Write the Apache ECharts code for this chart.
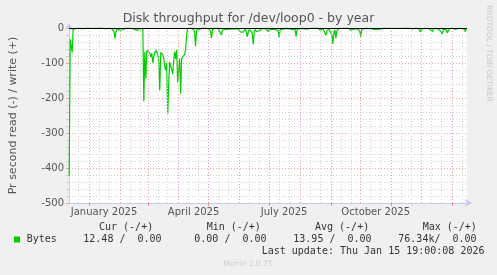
<!DOCTYPE html>
<html><head><meta charset="utf-8">
<script src="https://cdn.jsdelivr.net/npm/echarts@6/dist/echarts.min.js"></script>
<style>html,body{margin:0;padding:0;background:#f0f0f0;}#c{width:497px;height:275px;}</style>
</head><body><div id="c"></div>
<script>
const chartTitle = 'Disk throughput for /dev/loop0 - by year';
const yAxisName = 'Pr second read (-) / write (+)';
const seriesName = 'Bytes';
const rangeStart = '2024-12-11T19:00:00Z';
const rangeEnd = '2026-01-15T19:00:00Z';
const firstDay = '2024-12-12T00:00:00Z';
const monthNames = ['January','February','March','April','May','June','July','August','September','October','November','December'];
const labelDates = ['2025-01-16','2025-04-16','2025-07-16','2025-10-16'];
const tickDates = ['2025-01-01','2025-03-01','2025-05-01','2025-07-01','2025-09-01','2025-11-01','2026-01-01'];
const majorGridDates = ['2025-01-01','2025-02-01','2025-03-01','2025-04-01','2025-05-01','2025-06-01','2025-07-01','2025-08-01','2025-09-01','2025-10-01','2025-11-01','2025-12-01','2026-01-01'];
const minorGridDays = [11, 21];
// daily read throughput (negative = read), one value per day from firstDay
const readValues = [
-422,-32,-30,-70,-4,-2,-1,-1,0,-1,0,-1,0,-2,-1,-3,-1,0,-1,0,
-1,0,-1,0,0,-1,0,-2,0,-1,0,0,-1,0,-1,0,0,-2,-1,0,
0,-1,-2,-3,-6,-10,-30,-12,-3,-5,-2,-6,-7,-4,-5,-2,-1,0,-1,0,
0,-1,0,-1,-2,-1,-4,-8,-5,-7,-2,-1,0,-1,-3,-210,-68,-145,-64,-62,
-63,-72,-83,-72,-100,-82,-70,-64,-68,-75,-95,-178,-70,-72,-76,-85,-110,-120,-100,-245,
-160,-97,-110,-118,-132,-95,-68,-88,-62,-155,-120,-88,-188,-88,-82,-80,-76,-62,-20,-1,
-2,-1,0,-3,-2,-4,-10,-52,-6,-2,-1,-3,0,-2,-1,-4,-2,0,-1,-3,
-2,-4,-8,-29,-4,-1,-2,0,-3,-1,-2,-5,-6,-20,-5,-2,-1,-3,0,-2,
-4,-3,-6,-2,-1,-5,-3,-2,-4,-1,-3,-2,-11,-12,-6,-12,-8,-3,-10,-25,
-12,-4,-6,-3,-15,-47,-10,-4,-10,-6,-10,-8,-3,-5,-2,-6,-3,-1,-4,-2,
-10,-4,-2,-8,-3,-1,-2,-4,-1,-3,-8,-26,-5,-2,-1,-3,0,-2,-1,-2,
-4,-2,-3,-1,-5,-2,-1,-3,-24,-4,-1,0,-2,-1,0,-1,-2,0,-3,-4,
-3,-2,-4,-1,0,-1,-2,0,-1,-2,0,-3,-6,-10,-3,-2,-8,-14,-20,-8,
-3,-2,-5,-4,-20,-45,-12,-5,-29,-8,-3,-1,-2,0,-1,-2,0,-1,-3,-1,
0,-2,-3,-6,-2,-11,-3,-1,0,-2,-1,-3,-8,-25,-4,-1,0,-1,0,-2,
-1,0,-2,-1,-3,-5,-4,-6,-3,-5,-4,-6,-3,-5,-2,-1,0,-1,0,-1,
0,0,-1,0,-1,0,0,-1,0,0,-1,0,0,-1,0,0,0,-1,0,0,
-1,0,0,-1,-2,-3,-1,0,0,-1,0,-2,-4,-11,-3,-1,0,-1,0,-2,
-1,0,-2,-4,-3,-11,-2,-1,0,-1,-2,-3,-5,-3,-4,-16,-4,-2,-6,-3,
-14,-10,-3,-1,-2,0,-1,-2,-4,-1,0,-1,-2,-3,-1,0,-2,-3,-10,-2
];
const statLabels = ['Cur','Min','Avg','Max'];
const readStats = ['12.48','0.00','13.95','76.34k'];
const writeStats = ['0.00','0.00','0.00','0.00'];
const lastUpdate = 'Last update: Thu Jan 15 19:00:08 2026';
const versionText = 'Munin 2.0.75';
const watermark = 'RRDTOOL / TOBI OETIKER';

const DAY = 86400000;
const t0 = Date.parse(firstDay);
const tMin = Date.parse(rangeStart), tMax = Date.parse(rangeEnd);
const readData = readValues.map((v, i) => [t0 + i * DAY, v]);

const majorLines = majorGridDates.map(d => ({xAxis: Date.parse(d), lineStyle: {color: '#eea0a0', type: [1, 2], width: 1}}));
const minorLines = [];
for (let y = 2024, m = 11; y < 2026 || (y === 2026 && m === 0); m === 11 ? (y++, m = 0) : m++) {
  minorGridDays.forEach(dd => {
    const t = Date.UTC(y, m, dd);
    if (t > tMin && t < tMax) minorLines.push({xAxis: t, lineStyle: {color: '#d2d2d2', type: [1, 2], width: 1}});
  });
}

const mono = 'DejaVu Sans Mono';
const sans = 'DejaVu Sans';
const headerX = [99, 206.7, 315, 422.7];
const valueX = [83.3, 194.3, 293.3, 398.3];
const graphics = [
  {type: 'rect', shape: {x: 14, y: 236.5, width: 6, height: 6}, style: {fill: '#00cc00'}},
  {type: 'text', x: 26.7, y: 239.5, style: {text: seriesName, font: '10px ' + mono, fill: '#333', verticalAlign: 'middle'}},
  {type: 'text', x: 261.7, y: 251, style: {text: lastUpdate, font: '10px ' + mono, fill: '#333', verticalAlign: 'middle'}},
  {type: 'text', x: 248, y: 264, style: {text: versionText, font: '7.5px ' + sans, fill: '#cccccc', align: 'center', verticalAlign: 'middle'}},
  {type: 'text', x: 489, y: 53.5, rotation: -Math.PI / 2, style: {text: watermark, font: '7.5px ' + sans, fill: '#c8c8c8', align: 'center', verticalAlign: 'middle'}}
];
statLabels.forEach((lab, i) => {
  graphics.push({type: 'text', x: headerX[i], y: 227.7, style: {text: lab + ' (-/+)', font: '10px ' + mono, fill: '#333', verticalAlign: 'middle'}});
  const rs = readStats[i];
  const suffix = /[a-zA-Z]$/.test(rs) ? '' : ' ';
  graphics.push({type: 'text', x: valueX[i], y: 239.5, style: {text: rs + suffix + '/  ' + writeStats[i], font: '10px ' + mono, fill: '#333', verticalAlign: 'middle'}});
});

const chart = echarts.init(document.getElementById('c'));
chart.setOption({
  animation: false,
  backgroundColor: '#f0f0f0',
  title: {text: chartTitle, left: 'center', top: 12, padding: 0,
    textStyle: {fontSize: 12.5, fontWeight: 'normal', color: '#555', fontFamily: sans}},
  grid: {left: 67, right: 30, top: 28, bottom: 72, show: true, backgroundColor: '#ffffff', borderWidth: 0},
  xAxis: {
    type: 'value', min: tMin, max: tMax,
    axisLine: {show: true, onZero: false, lineStyle: {color: '#c8c8f0', width: 1}, symbol: ['none', 'arrow'], symbolSize: [6, 7], symbolOffset: [0, 5]},
    axisTick: {show: true, customValues: tickDates.map(d => Date.parse(d)), length: 3, lineStyle: {color: '#ee9090'}},
    axisLabel: {show: true, customValues: labelDates.map(d => Date.parse(d)),
      formatter: v => { const d = new Date(v); return monthNames[d.getUTCMonth()] + ' ' + d.getUTCFullYear(); },
      fontSize: 10, color: '#555', margin: 4, fontFamily: sans},
    splitLine: {show: false}
  },
  yAxis: {
    type: 'value', min: -500, max: 0, interval: 100,
    name: yAxisName, nameLocation: 'middle', nameGap: 50,
    nameTextStyle: {fontSize: 11, color: '#555', fontFamily: sans},
    axisLine: {show: true, lineStyle: {color: '#c8c8f0', width: 1}, symbol: ['none', 'arrow'], symbolSize: [6, 7], symbolOffset: [0, 5]},
    axisTick: {show: true, length: 3, lineStyle: {color: '#eea0a0'}},
    minorTick: {show: true, splitNumber: 5, length: 3, lineStyle: {color: '#cccccc'}},
    splitLine: {show: true, lineStyle: {color: '#eea0a0', type: [1, 2]}},
    minorSplitLine: {show: true, lineStyle: {color: '#d2d2d2', type: [1, 2]}},
    axisLabel: {fontSize: 10, color: '#555', margin: 5, fontFamily: sans}
  },
  series: [
    {type: 'line', name: 'grid', data: [], z: 1, silent: true,
      markLine: {silent: true, symbol: ['none', 'none'], label: {show: false}, animation: false, data: minorLines.concat(majorLines)}},
    {type: 'line', name: seriesName, data: readData, z: 3, showSymbol: false, symbol: 'none',
      lineStyle: {color: '#00cc00', width: 1.2}, itemStyle: {color: '#00cc00'}},
    {type: 'line', name: 'zero', data: [], z: 5, silent: true,
      markLine: {silent: true, symbol: ['none', 'none'], label: {show: false}, animation: false,
        data: [{yAxis: 0}], lineStyle: {color: '#000000', width: 1, type: 'solid'}}}
  ],
  graphic: graphics
});
</script></body></html>
